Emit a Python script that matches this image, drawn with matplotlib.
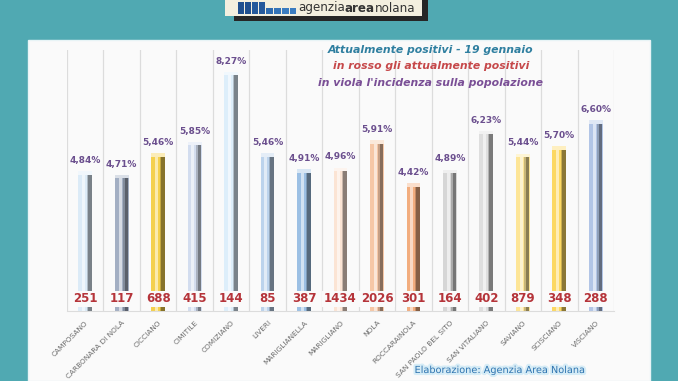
import numpy as np
import matplotlib.pyplot as plt
import matplotlib.colors as mcolors
import matplotlib.transforms as mtransforms
from matplotlib.patches import Rectangle
import matplotlib.patheffects as pe

# Data
comuni = ["CAMPOSANO", "CARBONARA DI NOLA", "CICCIANO", "CIMITILE", "COMIZIANO",
          "LIVERI", "MARIGLIANELLA", "MARIGLIANO", "NOLA", "ROCCARAINOLA",
          "SAN PAOLO BEL SITO", "SAN VITALIANO", "SAVIANO", "SCISCIANO", "VISCIANO"]
incidenza = [4.84, 4.71, 5.46, 5.85, 8.27, 5.46, 4.91, 4.96, 5.91, 4.42,
             4.89, 6.23, 5.44, 5.70, 6.60]
positivi = [251, 117, 688, 415, 144, 85, 387, 1434, 2026, 301,
            164, 402, 879, 348, 288]
bar_colors = ["#dcebf7", "#a3afc3", "#f4d04e", "#d3ddef", "#ddeefa",
              "#bcd3ec", "#9cc0e4", "#fbe4d4", "#f6c7a6", "#f2ad7e",
              "#d6d6d6", "#dedede", "#fde597", "#fcd862", "#b2c5e6"]

teal = "#50a9b2"
W, H = 678, 381
fig = plt.figure(figsize=(6.78, 3.81), dpi=100)
fig.patch.set_facecolor(teal)


def box(x0, y0, x1, y1, **kw):
    # pixel box (top-left origin) -> figure patch
    fig.patches.append(Rectangle((x0 / W, 1 - y1 / H), (x1 - x0) / W, (y1 - y0) / H,
                                 transform=fig.transFigure, **kw))


# white panel
box(28, 40, 650, 381, facecolor="#fafafa", edgecolor="#e8f4f6", lw=1.0, zorder=0)

# logo
box(234, 0, 428, 21, facecolor="#262626", zorder=1)
box(225, 0, 422, 16, facecolor="#f3efdf", zorder=2)
sq = [(238, 6, 12, "#1f4f8f"), (245, 6, 12, "#1f4f8f"), (252, 6, 12, "#24599c"),
      (259, 6, 12, "#24599c"), (266, 7, 6, "#2e6bb0"), (274, 7, 6, "#3474b8"),
      (282, 7, 6, "#3a7cc0"), (290, 6, 6, "#3a7cc0")]
for x0, w0, h0, col in sq:
    box(x0, 14 - h0, x0 + w0, 14, facecolor=col, zorder=3)
renderer = fig.canvas.get_renderer()
xpos = 298
for part, wt in [("agenzia", "normal"), ("area", "bold"), ("nolana", "normal")]:
    t = fig.text(xpos / W, 1 - 8 / H, part, fontsize=8.6, color="#333333", fontweight=wt,
                 ha="left", va="center", zorder=4)
    xpos += t.get_window_extent(renderer).width

ax = fig.add_axes([67 / W, 1 - 311 / H, 547 / W, 261 / H])
ax.set_zorder(5)
ax.set_facecolor("none")
n = len(comuni)
x = np.arange(n)
w = 0.38


def mix(c, other, t):
    a = np.array(mcolors.to_rgb(c))
    b = np.array(mcolors.to_rgb(other))
    return tuple(a * (1 - t) + b * t)


for xi, v, c in zip(x, incidenza, bar_colors):
    ax.bar(xi, v, width=w, color=c, zorder=2)
    # shaded right edge and highlight to imitate the cylinder look
    ax.bar(xi + w * 0.32, v, width=w * 0.30, color=mix(c, "black", 0.45), zorder=3)
    ax.bar(xi + w * 0.16, v, width=w * 0.10, color=mix(c, "black", 0.2), zorder=3)
    ax.bar(xi - w * 0.12, v, width=w * 0.22, color=mix(c, "white", 0.55), zorder=3)
    ax.bar(xi, 0.12, bottom=v - 0.12, width=w, color=mix(c, "white", 0.6), zorder=4)

for xi, v in zip(x, incidenza):
    ax.text(xi, v + 0.22, f"{v:.2f}%".replace(".", ","), ha="center", va="bottom",
            fontsize=6.5, fontweight="bold", color="#6b4f8e", zorder=6)

for xi, p in zip(x, positivi):
    ax.text(xi, 0.42, str(p), ha="center", va="center", fontsize=8.5, fontweight="bold",
            color="#b5343a", zorder=6,
            bbox=dict(boxstyle="square,pad=0.15", facecolor="#fafafa", edgecolor="none"))

ax.set_xlim(-0.5, n - 0.5)
ax.set_ylim(0, 9.03)
for b in np.arange(-0.5, n, 1.0):
    ax.axvline(b, color="#dcdcdc", lw=0.9, zorder=1)
ax.set_yticks([])
ax.set_xticks(x)
labels = ax.set_xticklabels(comuni, rotation=45, ha="right", rotation_mode="anchor",
                            fontsize=5.3, color="#6a6a6a")
shift = mtransforms.ScaledTranslation(7 / 100, 2 / 100, fig.dpi_scale_trans)
for lab in labels:
    lab.set_transform(lab.get_transform() + shift)
ax.tick_params(axis="x", length=0, pad=6)
for s in ["top", "right", "left"]:
    ax.spines[s].set_visible(False)
ax.spines["bottom"].set_color("#dcdcdc")

fig.text(431 / W, 1 - 50 / H, "Attualmente positivi - 19 gennaio", fontsize=7.8,
         fontweight="bold", style="italic", color="#2f7fa0", ha="center", va="center", zorder=7)
fig.text(431 / W, 1 - 66 / H, "in rosso gli attualmente positivi", fontsize=7.8,
         fontweight="bold", style="italic", color="#c6484a", ha="center", va="center", zorder=7)
fig.text(431 / W, 1 - 83 / H, "in viola l'incidenza sulla popolazione", fontsize=7.8,
         fontweight="bold", style="italic", color="#7a4f96", ha="center", va="center", zorder=7)

fig.text(500 / W, 1 - 370 / H, "Elaborazione: Agenzia Area Nolana", fontsize=7,
         color="#2f74b0", ha="center", va="center", zorder=7,
         path_effects=[pe.withStroke(linewidth=3, foreground="#d6ecf6")])

fig.savefig("out.png", dpi=100, facecolor=teal)
